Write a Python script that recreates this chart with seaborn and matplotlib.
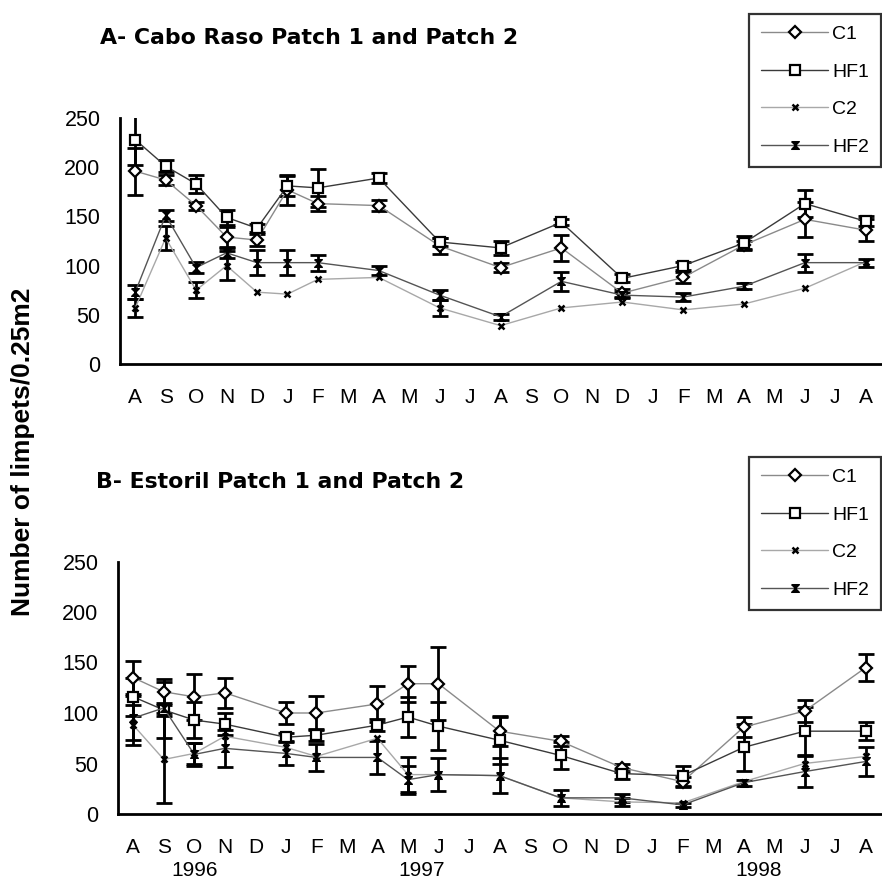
import numpy as np
import pandas as pd
import matplotlib
matplotlib.use("Agg")
import matplotlib.pyplot as plt
import seaborn as sns

# ---------------- data ----------------
month_labels = ["A", "S", "O", "N", "D", "J", "F", "M", "A", "M", "J", "J", "A",
                "S", "O", "N", "D", "J", "F", "M", "A", "M", "J", "J", "A"]
year_labels = ["1996", "1997", "1998"]
year_pos = [2.0, 9.45, 20.5]
series_names = ["C1", "HF1", "C2", "HF2"]

# Panel A: Cabo Raso (month index from Aug 1996)
a_months = [0, 1, 2, 3, 4, 5, 6, 8, 10, 12, 14, 16, 18, 20, 22, 24]
a_C1 = [196, 187, 161, 129, 126, 177, 163, 161, 120, 98, 118, 72, 88, 121, 147, 136]
a_C1_err = [24, 5, 4, 10, 6, 15, 8, 6, 8, 5, 13, 4, 6, 4, 18, 11]
a_HF1 = [228, 201, 183, 149, 138, 181, 179, 189, 124, 118, 144, 87, 100, 123, 163, 145]
a_HF1_err = [26, 6, 9, 8, 4, 10, 19, 5, 4, 7, 3, 4, 4, 7, 14, 5]
a_C2 = [57, 128, 75, 100, 73, 71, 86, 88, 57, 39, 57, 63, 55, 61, 77, 104]
a_C2_err = [9, 12, 8, 15, 0, 0, 0, 0, 8, 0, 0, 0, 0, 0, 0, 0]
a_HF2 = [73, 151, 98, 113, 103, 103, 103, 95, 70, 48, 84, 70, 68, 79, 103, 103]
a_HF2_err = [7, 6, 6, 5, 13, 13, 8, 5, 5, 3, 10, 3, 4, 3, 9, 4]

# Panel B: Estoril
b_months = [0, 1, 2, 3, 5, 6, 8, 9, 10, 12, 14, 16, 18, 20, 22, 24]
b_C1 = [135, 121, 116, 120, 100, 100, 109, 129, 129, 82, 72, 46, 32, 86, 102, 145]
b_C1_err = [16, 13, 23, 15, 11, 17, 18, 18, 36, 15, 5, 4, 5, 10, 11, 13]
b_HF1 = [116, 103, 93, 89, 76, 78, 88, 96, 87, 73, 58, 40, 38, 66, 82, 82]
b_HF1_err = [19, 28, 18, 11, 4, 6, 6, 20, 24, 23, 13, 5, 10, 23, 24, 9]
b_C2 = [88, 54, 60, 77, 66, 57, 75, 39, 39, 38, 16, 12, 11, 32, 50, 57]
b_C2_err = [20, 43, 10, 0, 0, 0, 0, 17, 0, 0, 0, 4, 0, 0, 0, 0]
b_HF2 = [95, 105, 59, 65, 60, 56, 56, 34, 39, 38, 16, 16, 9, 31, 42, 52]
b_HF2_err = [22, 5, 11, 18, 11, 13, 16, 14, 16, 17, 8, 4, 2, 3, 15, 14]

# ---------------- style ----------------
sns.set_style("white")
plt.rcParams["font.family"] = ["Liberation Sans", "DejaVu Sans"]
plt.rcParams["text.color"] = "black"
plt.rcParams["axes.labelcolor"] = "black"
plt.rcParams["xtick.color"] = "black"
plt.rcParams["ytick.color"] = "black"

hourglass = [(-1, 1), (1, 1), (-1, -1), (1, -1), (-1, 1)]
styles = {
    "C1": dict(color="#8a8a8a", marker="D", ms=6.0, mfc="white", mec="black", mew=1.6),
    "HF1": dict(color="#3a3a3a", marker="s", ms=6.5, mfc="white", mec="black", mew=1.6),
    "C2": dict(color="#a8a8a8", marker="x", ms=5, mfc="black", mec="black", mew=1.8),
    "HF2": dict(color="#555555", marker=hourglass, ms=5.5, mfc="black", mec="black", mew=1.0),
}

fig = plt.figure(figsize=(8.82, 8.83), dpi=100)
W, H = 882.0, 883.0


def make_axes(left, right, top_px, bottom_px):
    return fig.add_axes([left / W, 1 - bottom_px / H, (right - left) / W, (bottom_px - top_px) / H])


axA = make_axes(120, 881, 118, 364)
axB = make_axes(118, 881, 561.5, 814)


def draw_panel(ax, months, data, errs, show_years):
    for name in series_names:
        df = pd.DataFrame({"month": months, "value": data[name]})
        st = styles[name]
        sns.lineplot(data=df, x="month", y="value", ax=ax, color=st["color"], lw=1.0,
                     marker=st["marker"], markersize=st["ms"], markerfacecolor=st["mfc"],
                     markeredgecolor=st["mec"], markeredgewidth=st["mew"], label=name,
                     zorder=3, sort=True)
    for name in series_names:
        m = np.array(months)
        v = np.array(data[name], dtype=float)
        e = np.array(errs[name], dtype=float)
        keep = e > 0
        ax.errorbar(m[keep], v[keep], yerr=e[keep], fmt="none", ecolor="black",
                    elinewidth=2.0, capsize=5.5, capthick=2.0, zorder=2)
    ax.set_xlim(-0.5, 24.5)
    ax.set_ylim(0, 250)
    ax.set_yticks([0, 50, 100, 150, 200, 250])
    ax.set_xticks(np.arange(-0.5, 24.6, 1.0))
    ax.set_xticklabels([])
    ax.set_xticks(np.arange(0, 25), minor=True)
    ax.set_xticklabels(month_labels, minor=True, fontsize=15)
    ax.tick_params(axis="x", which="major", direction="inout", length=11, width=2, color="black")
    ax.tick_params(axis="x", which="minor", length=0, pad=17)
    ax.tick_params(axis="y", which="major", direction="out", length=8, width=2,
                   color="black", labelsize=15.5, pad=6)
    ax.set_xlabel("")
    ax.set_ylabel("")
    for s in ["top", "right"]:
        ax.spines[s].set_visible(False)
    for s in ["left", "bottom"]:
        ax.spines[s].set_linewidth(2)
        ax.spines[s].set_color("black")
    if ax.get_legend() is not None:
        ax.get_legend().remove()
    if show_years:
        for yl, xp in zip(year_labels, year_pos):
            ax.text(xp, -0.222, yl, transform=ax.get_xaxis_transform(),
                    ha="center", va="center", fontsize=15)


draw_panel(axA, a_months,
           {"C1": a_C1, "HF1": a_HF1, "C2": a_C2, "HF2": a_HF2},
           {"C1": a_C1_err, "HF1": a_HF1_err, "C2": a_C2_err, "HF2": a_HF2_err}, False)
draw_panel(axB, b_months,
           {"C1": b_C1, "HF1": b_HF1, "C2": b_C2, "HF2": b_HF2},
           {"C1": b_C1_err, "HF1": b_HF1_err, "C2": b_C2_err, "HF2": b_HF2_err}, True)


def add_legend(ax, top_px):
    handles, labels = ax.get_legend_handles_labels()
    leg = fig.legend(handles, labels, loc="upper right",
                     bbox_to_anchor=(881 / W, 1 - top_px / H),
                     bbox_transform=fig.transFigure, frameon=True, fancybox=False,
                     edgecolor="black", fontsize=14, handlelength=3.45, handletextpad=0.22,
                     labelspacing=1.02, borderpad=0.6, borderaxespad=0)
    leg.get_frame().set_linewidth(1.6)
    return leg


add_legend(axA, 14)
add_legend(axB, 457)

tA = fig.text(100 / W, 1 - 38 / H, "A- Cabo Raso Patch 1 and Patch 2", fontsize=16,
              fontweight="bold", ha="left", va="center", family="DejaVu Sans")
tB = fig.text(96 / W, 1 - 482 / H, "B- Estoril Patch 1 and Patch 2", fontsize=16,
              fontweight="bold", ha="left", va="center", family="DejaVu Sans")
# fit the B title to its width in the reference (about 369 px); A uses the same size
renderer = fig.canvas.get_renderer()
wB = tB.get_window_extent(renderer).width
size = 16 * 369.0 / wB
tA.set_fontsize(size)
tB.set_fontsize(size)

fig.text(23 / W, 1 - 452 / H, "Number of limpets/0.25m2", fontsize=19,
         fontweight="bold", rotation=90, ha="center", va="center")

fig.savefig("out.png", dpi=100)
